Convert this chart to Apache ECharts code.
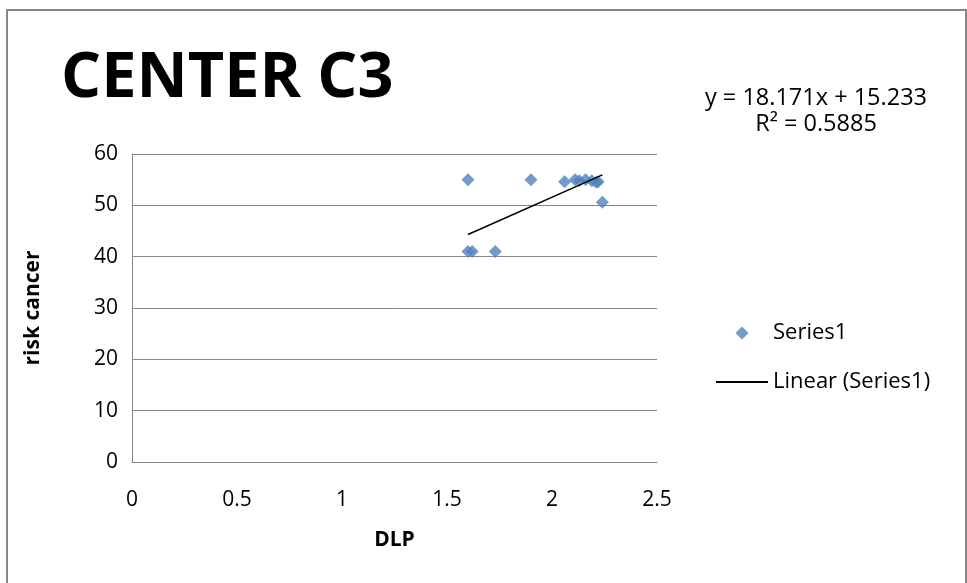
<!DOCTYPE html>
<html>
<head>
<meta charset="utf-8">
<title>CENTER C3</title>
<script src="https://cdn.jsdelivr.net/npm/echarts@6/dist/echarts.min.js"></script>
<style>
  html, body { margin: 0; padding: 0; background: #ffffff; }
  #chart { width: 967px; height: 583px; }
</style>
</head>
<body>
<div id="chart"></div>
<script>
// Measured DLP values and the matching cancer risk
const dlp  = [1.60, 1.60, 1.62, 1.73, 1.90, 2.06, 2.11, 2.13, 2.16, 2.19, 2.21, 2.22, 2.24];
const risk = [55,   41,   41,   41,   55,   54.6, 55,   54.8, 55,   54.8, 54.5, 54.6, 50.6];

// Linear fit reported on the chart
const slope = 18.171;
const intercept = 15.233;
const rSquared = 0.5885;

// Axis ticks
const xTicks = [0, 0.5, 1, 1.5, 2, 2.5];
const yTicks = [0, 10, 20, 30, 40, 50, 60];

const titleText = 'CENTER C3';
const seriesName = 'Series1';
const trendName = 'Linear (Series1)';

const points = dlp.map((x, i) => [x, risk[i]]);
const xMin = Math.min(...dlp);
const xMax = Math.max(...dlp);
const trend = [[xMin, slope * xMin + intercept], [xMax, slope * xMax + intercept]];

const FONT = '"Open Sans", "DejaVu Sans", sans-serif';
const GRAY = '#868686';

// Legend icons padded out to the full 52x14 legend box so they keep their shape
const DIAMOND_ICON = 'path://M0,0 L0,0 M52,14 L52,14 M26,0.5 L32.5,7 L26,13.5 L19.5,7 Z';
const LINE_ICON = 'path://M0,0 L0,0 M52,14 L52,14 M0,6 L52,6 L52,8 L0,8 Z';

const chart = echarts.init(document.getElementById('chart'), null, { renderer: 'canvas' });

chart.setOption({
  backgroundColor: '#ffffff',
  animation: false,
  textStyle: { fontFamily: FONT, color: '#000' },
  grid: { left: 132, right: 310, top: 154, bottom: 121, containLabel: false },
  xAxis: {
    type: 'value',
    min: xTicks[0],
    max: xTicks[xTicks.length - 1],
    interval: xTicks[1] - xTicks[0],
    name: 'DLP',
    nameLocation: 'middle',
    nameGap: 68,
    nameTextStyle: { fontFamily: FONT, fontWeight: 'bold', fontSize: 21, color: '#000' },
    axisLine: { show: true, lineStyle: { color: GRAY, width: 1 } },
    axisTick: { show: false },
    splitLine: { show: false },
    axisLabel: { fontFamily: FONT, fontSize: 21, color: '#000', margin: 28 }
  },
  yAxis: {
    type: 'value',
    min: yTicks[0],
    max: yTicks[yTicks.length - 1],
    interval: yTicks[1] - yTicks[0],
    name: 'risk cancer',
    nameLocation: 'middle',
    nameGap: 88,
    nameRotate: 90,
    nameTextStyle: { fontFamily: FONT, fontWeight: 'bold', fontSize: 21, color: '#000' },
    axisLine: { show: true, lineStyle: { color: GRAY, width: 1 } },
    axisTick: { show: false },
    splitLine: { show: true, lineStyle: { color: GRAY, width: 1 } },
    axisLabel: { fontFamily: FONT, fontSize: 21, color: '#000', margin: 14 }
  },
  legend: {
    orient: 'vertical',
    left: 711,
    top: 317,
    itemWidth: 52,
    itemHeight: 14,
    itemGap: 27,
    textStyle: { fontFamily: FONT, fontSize: 22, color: '#000' },
    data: [
      { name: seriesName, icon: DIAMOND_ICON, itemStyle: { color: '#4F81BD', borderWidth: 0 } },
      { name: trendName, icon: LINE_ICON, itemStyle: { color: '#000', borderWidth: 0 } }
    ]
  },
  graphic: [
    {
      type: 'rect',
      shape: { x: 7, y: 10, width: 959, height: 620 },
      style: { fill: 'none', stroke: '#878787', lineWidth: 2 },
      silent: true,
      z: -10
    },
    {
      type: 'text',
      left: 61,
      top: 48,
      style: {
        text: titleText,
        fontFamily: FONT,
        fontWeight: 'bold',
        fontSize: 63,
        fill: '#000'
      }
    },
    {
      type: 'text',
      x: 816,
      y: 98,
      style: {
        text: 'y = ' + slope + 'x + ' + intercept,
        fontFamily: FONT,
        fontSize: 23.5,
        fill: '#000',
        align: 'center',
        verticalAlign: 'middle'
      }
    },
    {
      type: 'text',
      x: 816,
      y: 124,
      style: {
        text: 'R² = ' + rSquared,
        fontFamily: FONT,
        fontSize: 23.5,
        fill: '#000',
        align: 'center',
        verticalAlign: 'middle'
      }
    }
  ],
  series: [
    {
      name: seriesName,
      type: 'scatter',
      symbol: 'diamond',
      symbolSize: 13,
      itemStyle: { color: '#4F81BD' },
      data: points,
      z: 2
    },
    {
      name: trendName,
      type: 'line',
      symbol: 'none',
      showSymbol: false,
      lineStyle: { color: '#000', width: 1.5 },
      itemStyle: { color: '#000' },
      data: trend,
      z: 3
    }
  ]
});
</script>
</body>
</html>
